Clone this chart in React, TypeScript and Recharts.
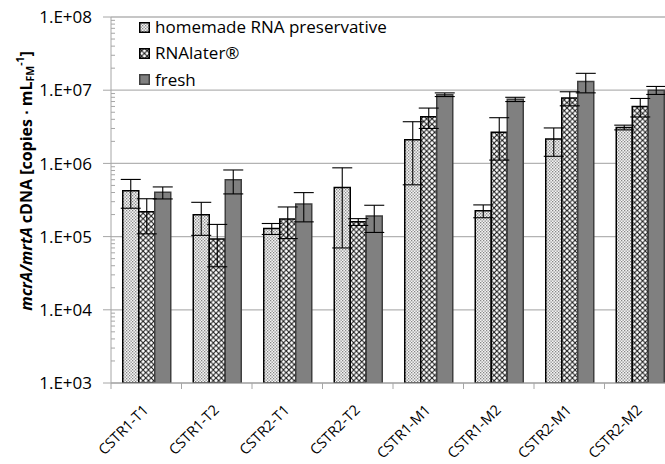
import React from 'react';
import { BarChart, Bar, XAxis, YAxis, CartesianGrid, ErrorBar, Legend } from 'recharts';

const categories = ['CSTR1-T1', 'CSTR1-T2', 'CSTR2-T1', 'CSTR2-T2', 'CSTR1-M1', 'CSTR1-M2', 'CSTR2-M1', 'CSTR2-M2'];
const homemade = [4.24e5, 1.99e5, 1.29e5, 4.7e5, 2.11e6, 2.26e5, 2.15e6, 3.1e6];
const homemadeErr = [1.8e5, 9.5e4, 2.2e4, 4.0e5, 1.6e6, 4.5e4, 9.0e5, 2.3e5];
const rnalater = [2.19e5, 9.27e4, 1.74e5, 1.59e5, 4.35e6, 2.66e6, 7.82e6, 6.01e6];
const rnalaterErr = [1.1e5, 5.4e4, 8.0e4, 1.7e4, 1.35e6, 1.55e6, 1.7e6, 1.7e6];
const fresh = [4.02e5, 5.98e5, 2.79e5, 1.91e5, 8.69e6, 7.5e6, 1.31e7, 1.0e7];
const freshErr = [7.5e4, 2.15e5, 1.2e5, 7.7e4, 5.0e5, 5.0e5, 3.9e6, 1.25e6];
const seriesKeys = ['homemade', 'rnalater', 'fresh'];
const seriesNames = ['homemade RNA preservative', 'RNAlater®', 'fresh'];
const majorTicks = [1e3, 1e4, 1e5, 1e6, 1e7, 1e8];
const minorMultipliers = [2, 3, 4, 5, 6, 7, 8, 9];

const data = categories.map((name, i) => ({
  name,
  homemade: homemade[i],
  homemadeErr: homemadeErr[i],
  rnalater: rnalater[i],
  rnalaterErr: rnalaterErr[i],
  fresh: fresh[i],
  freshErr: freshErr[i],
}));

const allTicks: number[] = [];
majorTicks.forEach((m, i) => {
  allTicks.push(m);
  if (i < majorTicks.length - 1) minorMultipliers.forEach((k) => allTicks.push(m * k));
});

const FONT = "'Open Sans', sans-serif";
const AXIS_GRAY = '#a6a6a6';

const seriesStyle: Record<string, { fill: string; stroke: string }> = {
  homemade: { fill: 'url(#dotsPat)', stroke: '#000000' },
  rnalater: { fill: 'url(#crossPat)', stroke: '#000000' },
  fresh: { fill: '#808080', stroke: '#404040' },
};

const Y_TICK_SIZE = 8;
const Y_TICK_MARGIN = 11;

const YTick = (props: any) => {
  const { x, y, payload } = props;
  const axisX = x + Y_TICK_SIZE + Y_TICK_MARGIN;
  const v = payload.value;
  const lg = Math.log10(v);
  const exp = Math.round(lg);
  const isMajor = Math.abs(lg - exp) < 1e-6;
  if (isMajor) {
    return (
      <g>
        <line x1={axisX - Y_TICK_SIZE} x2={axisX} y1={y} y2={y} stroke={AXIS_GRAY} strokeWidth={1} />
        <text x={x} y={y} dy="0.36em" textAnchor="end" fontSize={17} fill="#000" fontFamily={FONT}>
          {`1.E+${exp < 10 ? '0' : ''}${exp}`}
        </text>
      </g>
    );
  }
  return <line x1={axisX} x2={axisX + 4} y1={y} y2={y} stroke={AXIS_GRAY} strokeWidth={1} />;
};

const XTick = (props: any) => {
  const { x, y, payload, width, visibleTicksCount } = props;
  const half =
    typeof payload.offset === 'number' && payload.offset > 0
      ? payload.offset
      : width / visibleTicksCount / 2;
  const axisY = y - 6;
  const tx = x + 3;
  const ty = axisY + 28;
  return (
    <g>
      <line x1={x - half} x2={x - half} y1={axisY} y2={axisY + 6} stroke={AXIS_GRAY} strokeWidth={1} />
      <text x={tx} y={ty} textAnchor="end" transform={`rotate(-45 ${tx} ${ty})`} fontSize={14.5} fill="#000" fontFamily={FONT}>
        {payload.value}
      </text>
    </g>
  );
};

const YTitle = (props: any) => {
  const vb = props.viewBox || { x: 0, y: 17, width: 111, height: 366 };
  const cx = vb.x + 26;
  const cy = vb.y + vb.height / 2 - 19;
  return (
    <text
      x={cx}
      y={cy}
      transform={`rotate(-90 ${cx} ${cy})`}
      textAnchor="middle"
      dominantBaseline="central"
      fontFamily={FONT}
      fontWeight="bold"
      fontSize={16}
      fill="#000"
    >
      <tspan fontStyle="italic">mcrA/mrtA</tspan>
      <tspan> cDNA [copies ∙ mL</tspan>
      <tspan fontSize={10.5} dy={4}>FM</tspan>
      <tspan fontSize={10.5} dy={-10}>-1</tspan>
      <tspan dy={6}>]</tspan>
    </text>
  );
};

const LegendContent = (props: any) => {
  const payload = [...(props.payload || [])].sort(
    (a: any, b: any) => seriesKeys.indexOf(a.dataKey) - seriesKeys.indexOf(b.dataKey)
  );
  return (
    <div style={{ fontFamily: FONT, fontSize: 17, color: '#000' }}>
      {payload.map((p: any) => {
        const st = seriesStyle[p.dataKey] || { fill: p.color, stroke: '#000' };
        return (
          <div key={p.dataKey} style={{ display: 'flex', alignItems: 'center', height: 26.3, lineHeight: '26.3px', whiteSpace: 'nowrap' }}>
            <svg width={11} height={11} style={{ display: 'block' }}>
              <rect x={0.75} y={0.75} width={9.5} height={9.5} fill={st.fill} stroke={st.stroke} strokeWidth={1.5} />
            </svg>
            <span style={{ marginLeft: 5 }}>{p.value}</span>
          </div>
        );
      })}
    </div>
  );
};

export default function App() {
  return (
    <div style={{ position: 'absolute', left: 0, top: 0, width: 665, height: 464, overflow: 'hidden', background: '#fff' }}>
      <BarChart
        width={680}
        height={464}
        data={data}
        margin={{ top: 17, right: 5, bottom: 0, left: 0 }}
        barCategoryGap="16.67%"
        barGap={0}
        style={{ fontFamily: FONT }}
      >
        <defs>
          <pattern id="dotsPat" patternUnits="userSpaceOnUse" width={3} height={3}>
            <rect x={0} y={0} width={3} height={3} fill="#f4f4f4" />
            <rect x={0} y={0} width={1.3} height={1.3} fill="#858585" />
            <rect x={1.5} y={1.5} width={1.3} height={1.3} fill="#858585" />
          </pattern>
          <pattern id="crossPat" patternUnits="userSpaceOnUse" width={5.4} height={5.4}>
            <rect x={0} y={0} width={5.4} height={5.4} fill="#ffffff" />
            <path d="M0,0 L5.4,5.4 M5.4,0 L0,5.4" stroke="#1a1a1a" strokeWidth={1.1} />
          </pattern>
        </defs>
        <CartesianGrid vertical={false} horizontalValues={majorTicks} stroke="#b3b3b3" strokeWidth={1.3} />
        <XAxis
          dataKey="name"
          height={81}
          tickLine={false}
          tickSize={6}
          tickMargin={0}
          interval={0}
          axisLine={{ stroke: AXIS_GRAY, strokeWidth: 1 }}
          tick={<XTick />}
        />
        <YAxis
          type="number"
          scale="log"
          domain={[1e3, 1e8]}
          ticks={allTicks}
          interval={0}
          width={111}
          allowDataOverflow
          tickLine={false}
          tickSize={Y_TICK_SIZE}
          tickMargin={Y_TICK_MARGIN}
          axisLine={{ stroke: AXIS_GRAY, strokeWidth: 1 }}
          tick={<YTick />}
          label={(p: any) => <YTitle {...p} />}
        />
        <Legend
          layout="vertical"
          align="center"
          verticalAlign="middle"
          itemSorter={null as any}
          content={<LegendContent />}
          wrapperStyle={{ top: 14, left: 139, width: 'auto', height: 'auto' }}
        />
        <Bar dataKey="homemade" name={seriesNames[0]} fill={seriesStyle.homemade.fill} stroke={seriesStyle.homemade.stroke} strokeWidth={1.5} isAnimationActive={false}>
          <ErrorBar dataKey="homemadeErr" width={10} stroke="#000" strokeWidth={1.1} />
        </Bar>
        <Bar dataKey="rnalater" name={seriesNames[1]} fill={seriesStyle.rnalater.fill} stroke={seriesStyle.rnalater.stroke} strokeWidth={1.5} isAnimationActive={false}>
          <ErrorBar dataKey="rnalaterErr" width={10} stroke="#000" strokeWidth={1.1} />
        </Bar>
        <Bar dataKey="fresh" name={seriesNames[2]} fill={seriesStyle.fresh.fill} stroke={seriesStyle.fresh.stroke} strokeWidth={1.5} isAnimationActive={false}>
          <ErrorBar dataKey="freshErr" width={10} stroke="#000" strokeWidth={1.1} />
        </Bar>
      </BarChart>
    </div>
  );
}
